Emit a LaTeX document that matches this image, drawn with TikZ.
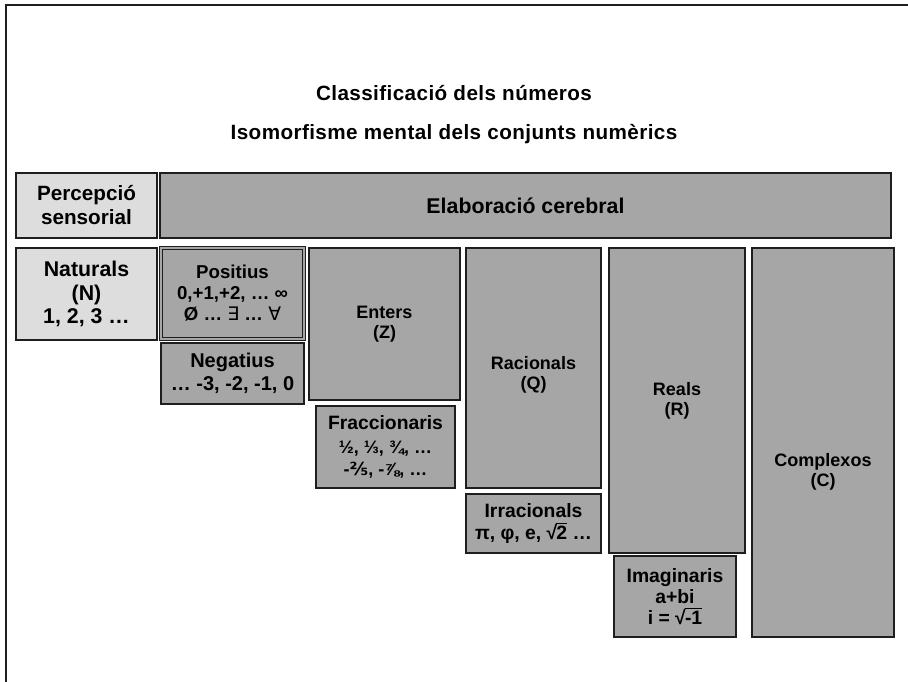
\documentclass[tikz,border=0pt]{standalone}
\usepackage{fontspec}
\setmainfont{Liberation Sans}
\newfontfamily\titlefont{Liberation Sans}[LetterSpace=2]
\newfontfamily\dejavu{DejaVu Sans}
\usepackage{xcolor}
\definecolor{sense}{HTML}{DDDDDD}
\definecolor{brain}{HTML}{A6A6A6}
\definecolor{edge}{HTML}{1E1E1E}
\newcommand{\sz}[2]{\fontsize{#1}{#2}\selectfont}
\newcommand{\overroot}[1]{√\kern-0.04em\setbox0\hbox{#1}\rlap{\rule[0.8em]{\wd0}{0.075em}}\box0\relax}

\begin{document}
\begin{tikzpicture}[x=0.75pt, y=-0.75pt,
  cell/.style={draw=edge, line width=1.2pt, align=center, font=\bfseries, inner sep=0pt},
  sensecell/.style={cell, fill=sense},
  braincell/.style={cell, fill=brain},
  wh/.style 2 args={minimum width=#1*0.75pt, minimum height=#2*0.75pt},
  caption/.style={font=\titlefont\bfseries\sz{15.5}{18}}]
  \useasboundingbox (0,0) rectangle (908,682);
  \draw[edge, line width=1.5pt] (6,682) |- (908,5);

  % titles
  \node[caption] (title) at (454,93) {Classificació dels números};
  \node[caption] (subtitle) at (454,134) {Isomorfisme mental dels conjunts numèrics};

  % header row
  \node[sensecell, wh={141}{65}, font=\bfseries\sz{15.5}{18}] (percep) at (86.5,205.5) {Percepció\\sensorial};
  \node[braincell, wh={731}{65}, font=\bfseries\sz{16}{18}] (elab) at (525.5,205.5) {Elaboració cerebral};

  % number sets
  \node[sensecell, wh={141}{92}, font=\bfseries\sz{16}{17.6}] (natur) at (86.5,294) {Naturals\\(N)\\1, 2, 3 …};
  \node[braincell, wh={143}{91}, font=\bfseries\sz{14}{15.75}, double=brain, double distance=0.9pt] (posit) at (232.5,293.5)
    {Positius\\0,+1,+2, … ∞\\Ø … {\dejavu\mdseries ∃} … {\dejavu\mdseries ∀}};
  \node[braincell, wh={143}{61}, font=\bfseries\sz{15}{17}] (negat) at (232.5,373.5) {Negatius\\… -3, -2, -1, 0};
  \node[braincell, wh={151}{152}, font=\bfseries\sz{13.5}{15}] (enter) at (384.5,324) {Enters\\(Z)};
  \node[braincell, wh={139}{82}, font=\bfseries\sz{14.5}{16}] (fracc) at (385.5,447)
    {Fraccionaris\\[2pt]{\sz{13.5}{15}½, ⅓, ¾, …}\\{\sz{13.5}{15}-{\dejavu\bfseries ⅖}, -⅞, …}};
  \node[braincell, wh={135}{240}] (racio) at (533.5,368) {};
  \node[font=\bfseries\sz{13.5}{15}, align=center] (racio-txt) at (533.5,375) {Racionals\\(Q)};
  \node[braincell, wh={135}{59}, font=\bfseries\sz{14.5}{17}] (irrac) at (533.5,523.5) {Irracionals\\π, φ, e, \overroot{2} …};
  \node[braincell, wh={136}{305}, font=\bfseries\sz{13.5}{15}] (reals) at (677,400.5) {Reals\\(R)};
  \node[braincell, wh={122}{81}, font=\bfseries\sz{14.5}{16}] (imagi) at (675,596.5) {Imaginaris\\a+bi\\i = \overroot{-1}};
  \node[braincell, wh={142}{389}] (compl) at (823,442.5) {};
  \node[font=\bfseries\sz{13.5}{15}, align=center] (compl-txt) at (823,472) {Complexos\\(C)};
\end{tikzpicture}
\end{document}
